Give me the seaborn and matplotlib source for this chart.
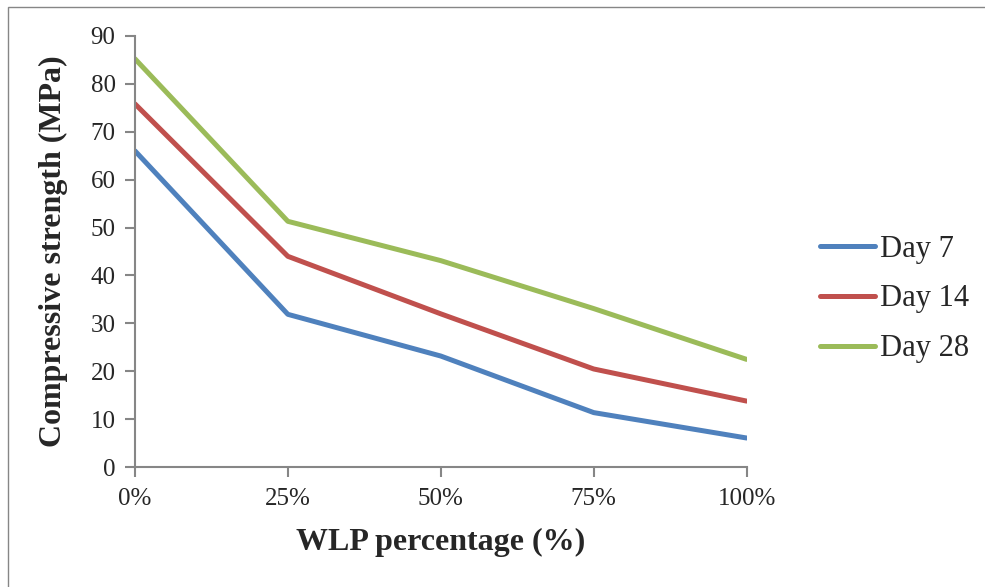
import pandas as pd
import numpy as np
import seaborn as sns
import matplotlib.pyplot as plt
from matplotlib.patches import Rectangle

# datos
wlp = [0, 25, 50, 75, 100]
wlp_labels = ['0%', '25%', '50%', '75%', '100%']
day7 = [66.0, 31.9, 23.2, 11.4, 6.1]
day14 = [75.8, 44.0, 32.0, 20.5, 13.8]
day28 = [85.2, 51.3, 43.1, 33.1, 22.5]

df = pd.DataFrame({
    'wlp': wlp * 3,
    'strength': day7 + day14 + day28,
    'serie': ['Day 7'] * 5 + ['Day 14'] * 5 + ['Day 28'] * 5,
})

sns.set_style('white')
plt.rcParams['font.family'] = ['Liberation Serif', 'DejaVu Serif']

fig = plt.figure(figsize=(9.85, 5.87), dpi=100)
ax = fig.add_axes([0.137, 0.204, 0.621, 0.735])

colores = {'Day 7': '#4F81BD', 'Day 14': '#C0504D', 'Day 28': '#9BBB59'}
sns.lineplot(data=df, x='wlp', y='strength', hue='serie', palette=colores,
             linewidth=3.6, ax=ax, legend=True)

ax.set_xlim(0, 100)
ax.set_ylim(0, 90)
ax.set_xticks(wlp)
ax.set_xticklabels(wlp_labels)
ax.set_yticks(np.arange(0, 91, 10))
ax.tick_params(axis='both', labelsize=18, direction='out', length=7,
               width=1.5, color='#868686', bottom=True, left=True)
ax.tick_params(axis='x', pad=8)
ax.tick_params(axis='y', pad=7)
for s in ['top', 'right']:
    ax.spines[s].set_visible(False)
for s in ['left', 'bottom']:
    ax.spines[s].set_color('#868686')
    ax.spines[s].set_linewidth(1.5)

ax.set_xlabel('WLP percentage (%)', fontsize=23, fontweight='bold', labelpad=13)
ax.set_ylabel('Compressive strength (MPa)', fontsize=23, fontweight='bold', labelpad=16)

leg = ax.legend(loc='center left', bbox_to_anchor=(1.075, 0.39), frameon=False,
                fontsize=22, handlelength=1.8, handletextpad=0.15, labelspacing=0.68)
for line in leg.get_lines():
    line.set_linewidth(3.6)
    line.set_solid_capstyle('round')

# borde del grafico
fig.patches.append(Rectangle((8 / 985, -0.1), 1.2, 1.1 - 7 / 587,
                             transform=fig.transFigure, fill=False,
                             edgecolor='#868686', linewidth=1.0))

fig.savefig('out.png', dpi=100)
